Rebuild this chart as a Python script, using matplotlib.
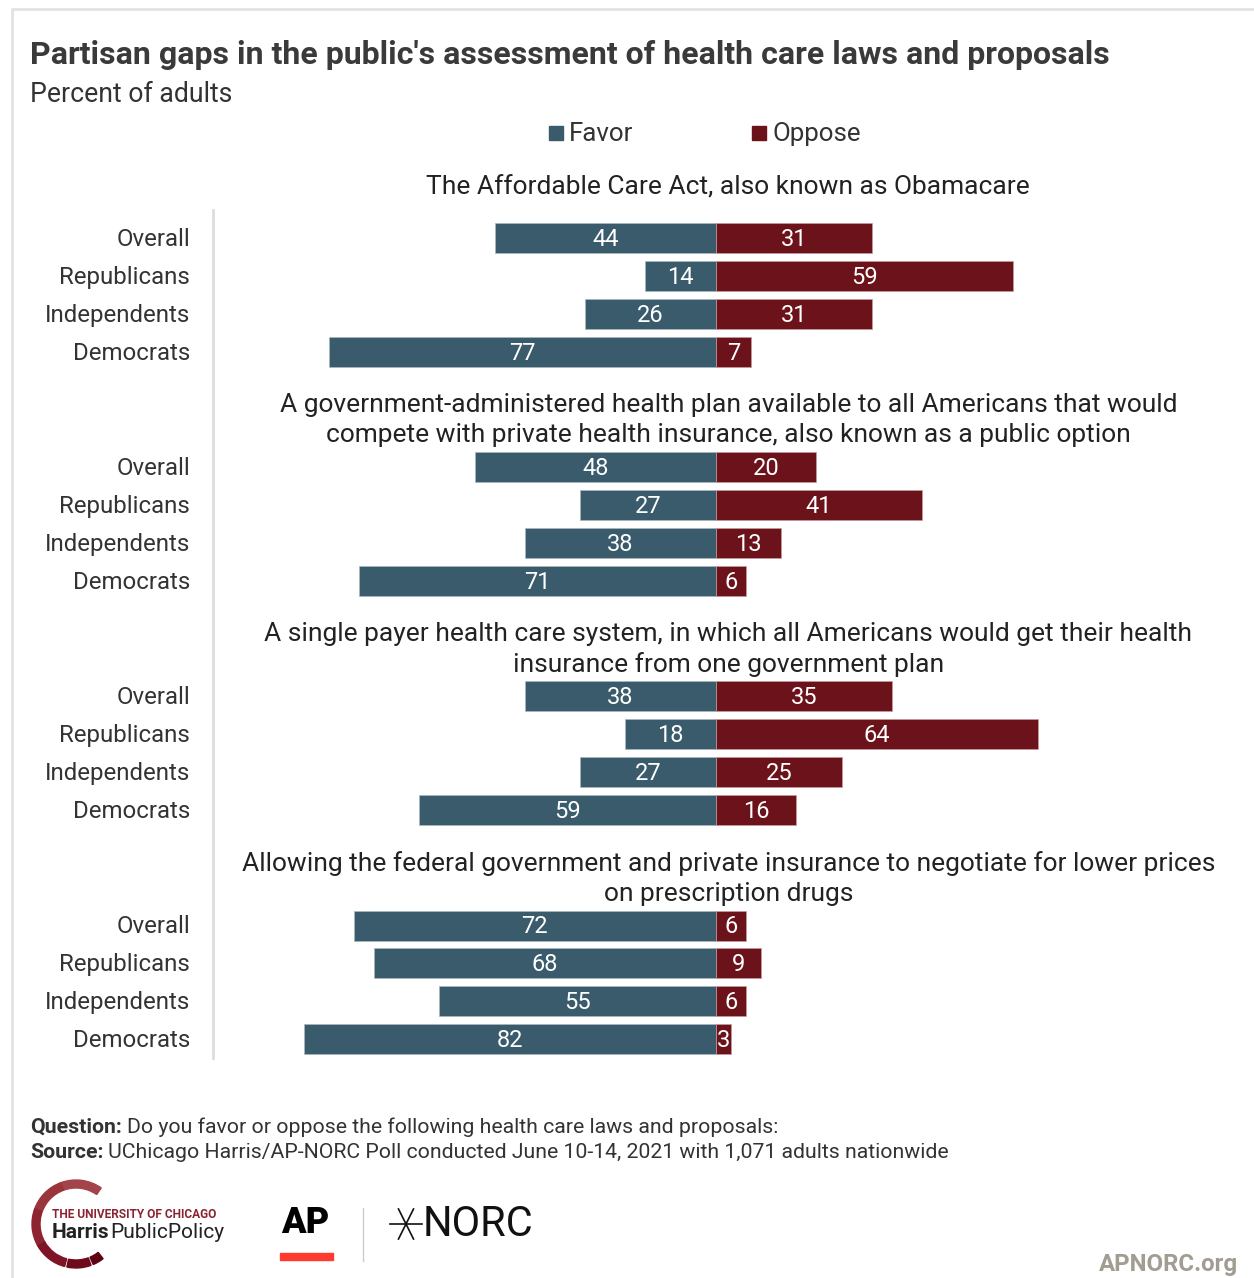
import matplotlib.pyplot as plt
from matplotlib.patches import Rectangle, Wedge
import numpy as np

plt.rcParams['font.family'] = ['Roboto', 'DejaVu Sans']

W, H = 1254, 1278

# survey results, percent of adults
groups = ["Overall", "Republicans", "Independents", "Democrats"]
questions = [
    "The Affordable Care Act, also known as Obamacare",
    "A government-administered health plan available to all Americans that would\ncompete with private health insurance, also known as a public option",
    "A single payer health care system, in which all Americans would get their health\ninsurance from one government plan",
    "Allowing the federal government and private insurance to negotiate for lower prices\non prescription drugs",
]
favor = [
    [44, 14, 26, 77],
    [48, 27, 38, 71],
    [38, 18, 27, 59],
    [72, 68, 55, 82],
]
oppose = [
    [31, 59, 31, 7],
    [20, 41, 13, 6],
    [35, 64, 25, 16],
    [6, 9, 6, 3],
]

FAVOR_C = "#3a5b6b"
OPPOSE_C = "#6b121a"
TXT = "#333333"


def fx(px):
    return px / W


def fy(py):
    return 1 - py / H


fig = plt.figure(figsize=(W / 100, H / 100), dpi=100)

# overlay axes in pixel units for frame, notes and logos
lax = fig.add_axes([0, 0, 1, 1], facecolor="none")
lax.set_xlim(0, W)
lax.set_ylim(H, 0)
lax.axis("off")
lax.plot([12, 12, W], [H, 9, 9], color="#e2e2e2", lw=2)

ax = fig.add_axes([fx(213), fy(1082), fx(1041), 919.6 / H])
ax.set_xlim(-100, 107)
ax.set_ylim(22.21, -2)
ax.axis("off")

panel_step = 6.03
for p in range(len(questions)):
    ys = p * panel_step + np.arange(len(groups))
    f = np.array(favor[p])
    o = np.array(oppose[p])
    ax.barh(ys, -f, height=0.79, color=FAVOR_C, edgecolor="#a9b7bf", lw=0.5)
    ax.barh(ys, o, height=0.79, color=OPPOSE_C, edgecolor="#c79a9e", lw=0.5)
    for y, fv, ov in zip(ys, f, o):
        ax.text(-fv / 2, y + 0.03, str(fv), ha="center", va="center",
                color="white", fontsize=17)
        ax.text(ov / 2, y + 0.03, str(ov), ha="center", va="center",
                color="white", fontsize=17)
    # group labels, right aligned to the left of the divider
    for y, g in zip(ys, groups):
        ax.annotate(g, xy=(0, y + 0.03), xycoords=("axes fraction", "data"),
                    xytext=(-23, 0), textcoords="offset pixels",
                    ha="right", va="center", fontsize=17.3, color=TXT)
    nlines = questions[p].count("\n") + 1
    ty = p * panel_step - (1.34 if nlines == 1 else 1.24)
    ax.annotate(questions[p], xy=(0.495, ty), xycoords=("axes fraction", "data"),
                ha="center", va="center", fontsize=19, color="#222222",
                linespacing=1.33)

# thin divider between labels and bars
lax.plot([213, 213], [210, 1058], color="#dddddd", lw=2)

# headings
lax.text(30, 55, "Partisan gaps in the public's assessment of health care laws and proposals",
         fontsize=23, fontweight="bold", color="#3a3a3a", va="center")
lax.text(30, 94, "Percent of adults", fontsize=19.2, color=TXT, va="center")

# legend
for x0, lab, c in [(549, "Favor", FAVOR_C), (752, "Oppose", OPPOSE_C)]:
    lax.add_patch(Rectangle((x0, 126), 14, 14, color=c))
    lax.text(x0 + 20, 134, lab, fontsize=18.6, color=TXT, va="center")

# notes
fig.canvas.draw()
rend = fig.canvas.get_renderer()
for y, head, body in [(1127, "Question:", "Do you favor or oppose the following health care laws and proposals:"),
                      (1152, "Source:", "UChicago Harris/AP-NORC Poll conducted June 10-14, 2021 with 1,071 adults nationwide")]:
    t = lax.text(30, y, head, fontsize=15.3, color=TXT, va="center", fontweight="bold")
    bb = t.get_window_extent(rend)
    lax.text(bb.x1 + 5, y, body, fontsize=15.3, color=TXT, va="center")

# Harris Public Policy mark
arc_cols = ["#a3434a", "#9a353c", "#8e2430", "#7e1424", "#6e0a1a", "#5e0414"]
for (a0, a1), c in zip([(55, 110), (110, 160), (160, 210), (210, 255), (258, 290), (293, 308)], arc_cols):
    lax.add_patch(Wedge((76, 1224), 44, -a1, -a0, width=8, color=c))
lax.text(52, 1215, "THE UNIVERSITY OF CHICAGO", fontsize=8.6, fontweight="bold",
         color="#8b2332", va="center")
lax.text(52, 1232, "Harris", fontsize=15, fontweight="bold", color="#222222", va="center")
lax.text(110, 1232, "PublicPolicy", fontsize=15, color="#222222", va="center")

# AP and NORC marks
lax.text(281, 1223, "AP", fontsize=26, fontweight="black", color="black", va="center")
lax.add_patch(Rectangle((280, 1253), 53, 7, color="#ff3b30"))
lax.plot([363, 363], [1208, 1261], color="#cccccc", lw=1)
for ang in [0, 62, 118]:
    r = np.deg2rad(ang)
    lax.plot([406 - 16 * np.cos(r), 406 + 16 * np.cos(r)],
             [1224 - 17 * np.sin(r), 1224 + 17 * np.sin(r)], color="#111111", lw=1.2)
lax.text(423, 1224, "NORC", fontsize=30, color="#111111", va="center")

lax.text(1238, 1264, "APNORC.org", fontsize=17.3, fontweight="bold",
         color="#a29d92", ha="right", va="center")

fig.savefig("out.png", dpi=100)
